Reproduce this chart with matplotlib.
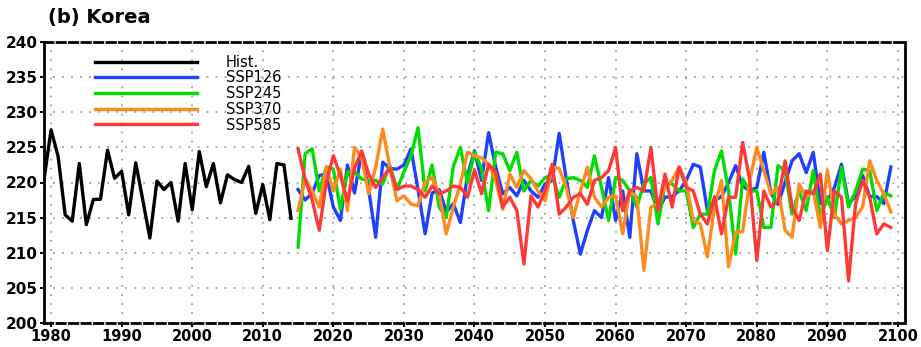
import numpy as np
from matplotlib import pyplot as plt

# --- data -------------------------------------------------------------
hist_years = list(range(1979, 2015))
hist = [220.4, 227.5, 223.7, 215.4, 214.5, 222.7, 214.0, 217.6, 217.6, 224.6,
        220.6, 221.6, 215.4, 222.8, 217.5, 212.1, 220.2, 219.0, 220.0, 214.5,
        222.7, 216.1, 224.4, 219.4, 222.7, 217.1, 221.1, 220.4, 220.0, 222.3,
        215.6, 219.7, 214.7, 222.7, 222.5, 214.9]

ssp_years = list(range(2015, 2100))

ssp126 = [219.0, 217.5, 218.5, 221.0, 221.2, 216.5, 214.6, 222.5, 218.5, 224.3,
          219.0, 212.2, 222.9, 222.0, 221.9, 222.5, 224.8, 219.0, 212.7, 218.5,
          219.0, 215.8, 217.0, 214.3, 221.0, 224.5, 220.3, 227.1, 222.2, 218.4,
          219.3, 218.1, 220.3, 218.8, 217.9, 219.8, 220.3, 227.0, 220.5, 214.6,
          209.8, 213.2, 216.0, 215.0, 220.7, 214.6, 218.8, 212.2, 224.1, 218.8,
          218.8, 216.0, 217.9, 218.0, 218.8, 220.3, 222.6, 222.2, 216.0, 217.4,
          218.0, 220.0, 222.4, 219.5, 218.8, 219.3, 224.3, 218.5, 216.9, 220.0,
          223.1, 224.1, 221.4, 224.3, 217.0, 217.4, 219.3, 222.6, 217.0, 218.0,
          221.0, 218.0, 218.0, 217.0, 222.2]

ssp245 = [210.8, 224.1, 224.8, 218.8, 222.2, 221.9, 216.2, 221.5, 221.5, 220.5,
          220.3, 220.3, 219.8, 222.5, 219.0, 221.5, 223.8, 227.8, 218.8, 222.5,
          216.5, 215.0, 222.3, 225.0, 219.9, 224.3, 222.0, 216.0, 224.3, 224.1,
          221.7, 224.3, 218.8, 220.3, 219.5, 220.7, 221.0, 217.9, 220.5, 220.7,
          220.3, 219.3, 223.8, 219.3, 214.6, 220.7, 220.3, 218.8, 216.5, 219.8,
          220.7, 214.1, 219.8, 219.8, 218.8, 218.8, 213.6, 215.5, 215.5, 221.7,
          224.5, 218.8, 209.8, 220.5, 218.8, 218.8, 213.6, 213.6, 222.4, 221.7,
          215.5, 218.8, 216.0, 221.7, 215.0, 217.9, 215.0, 222.2, 216.5, 218.8,
          221.9, 221.7, 216.0, 218.5, 218.1]

ssp370 = [216.0, 220.5, 218.8, 216.5, 222.2, 218.8, 221.9, 216.0, 225.0, 223.6,
          218.4, 222.2, 227.6, 222.2, 217.4, 218.1, 216.9, 216.7, 220.0, 220.7,
          218.4, 212.7, 216.5, 219.8, 224.3, 223.8, 223.5, 222.6, 220.3, 216.2,
          221.2, 219.3, 221.7, 220.5, 218.8, 217.4, 222.2, 222.0, 219.3, 215.0,
          218.8, 222.2, 217.9, 216.5, 217.9, 218.1, 212.7, 218.8, 217.9, 207.5,
          216.5, 217.0, 219.3, 220.3, 222.2, 220.0, 214.6, 214.1, 209.4, 216.5,
          220.3, 208.0, 212.9, 213.0, 220.3, 225.0, 221.7, 218.4, 219.3, 213.2,
          212.2, 219.8, 217.9, 218.8, 213.6, 221.7, 215.5, 214.1, 214.6, 215.0,
          216.5, 223.1, 220.3, 218.4, 215.8]

ssp585 = [224.8, 220.5, 217.5, 213.2, 220.0, 223.8, 221.0, 217.4, 222.0, 224.5,
          221.2, 219.3, 220.7, 222.0, 219.0, 219.5, 219.5, 219.0, 217.9, 219.5,
          218.4, 218.8, 219.5, 219.3, 217.9, 221.8, 218.4, 222.6, 221.5, 216.5,
          217.9, 216.0, 208.4, 218.1, 216.5, 218.8, 222.6, 215.5, 216.5, 217.9,
          218.4, 216.9, 220.3, 220.7, 221.7, 225.0, 216.0, 218.8, 219.3, 218.8,
          225.0, 216.0, 221.2, 216.5, 222.2, 219.3, 218.8, 215.5, 214.1, 218.0,
          212.7, 217.9, 217.9, 225.7, 220.3, 208.9, 218.8, 216.5, 217.4, 223.1,
          216.5, 214.6, 218.8, 218.4, 221.2, 210.3, 218.8, 217.9, 206.0, 217.0,
          220.3, 217.9, 212.7, 214.1, 213.6]

labels = ["Hist.", "SSP126", "SSP245", "SSP370", "SSP585"]
colors = ["black", "#2040ff", "#00dd00", "#ff8a1e", "#ff3838"]

narrow = ["Liberation Sans Narrow", "DejaVu Sans Condensed", "DejaVu Sans"]

# --- plot -------------------------------------------------------------
fig = plt.figure(figsize=(9.21, 3.47), dpi=100)
ax = fig.add_axes([44/921, 1-323/347, 861/921, 281/347])

ax.plot(hist_years, hist, color=colors[0], lw=2.4, label=labels[0], zorder=3)
series = [ssp126, ssp245, ssp370, ssp585]
for i, s in enumerate(series):
    ax.plot(ssp_years, s, color=colors[i+1], lw=2.4, label=labels[i+1], zorder=3)

ax.set_xlim(1979, 2101)
ax.set_ylim(200, 240)
ax.set_xticks(np.arange(1980, 2101, 10))
ax.set_yticks(np.arange(200, 241, 5))

ax.grid(True, color="#a0a0a0", linestyle=(0, (1, 4)), lw=1.3)

for side in ["left", "right"]:
    ax.spines[side].set_linewidth(2)
for side in ["top", "bottom"]:
    ax.spines[side].set_linewidth(2)
    ax.spines[side].set_linestyle((0, (3, 1.5)))

ax.tick_params(axis="both", direction="out", length=3, width=1.5, pad=1.5)
for t in ax.get_xticklabels():
    t.set_family(narrow)
    t.set_fontsize(10.5)
    t.set_fontweight("bold")
for t in ax.get_yticklabels():
    t.set_fontsize(11)
    t.set_fontweight("bold")

leg = ax.legend(loc="upper left", bbox_to_anchor=(0.059, 0.955), frameon=False,
                handlelength=7.0, handletextpad=2.0, labelspacing=0.05,
                borderpad=0, borderaxespad=0,
                prop={"family": narrow, "size": 10.5})

fig.text(48/921, 1-18/347, "(b) Korea", fontsize=14, fontweight="bold",
         va="center", ha="left")

fig.savefig("out.png", dpi=100)
